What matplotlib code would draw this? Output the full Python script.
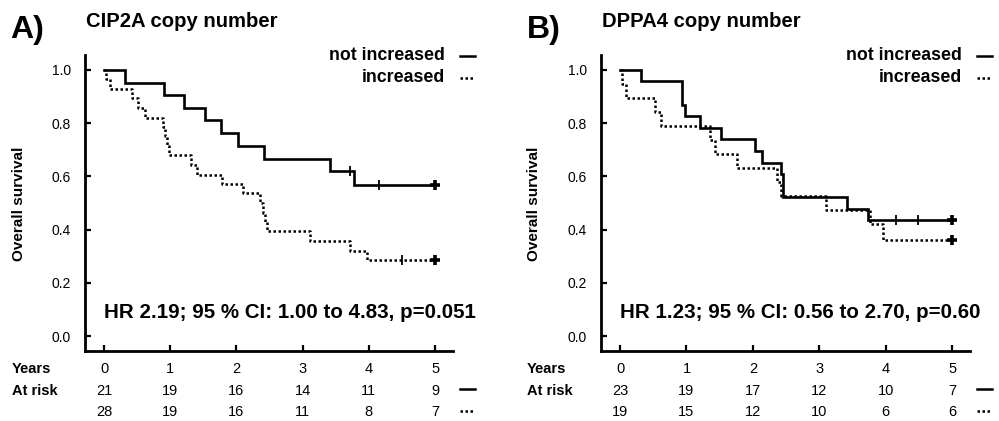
import matplotlib
matplotlib.use("Agg")
import matplotlib.pyplot as plt
from matplotlib.lines import Line2D

plt.rcParams['font.family'] = ['Liberation Sans', 'DejaVu Sans']

W, H = 999, 421

# ---------------- data ----------------
years = [0, 1, 2, 3, 4, 5]
yticks = [0.0, 0.2, 0.4, 0.6, 0.8, 1.0]
ytick_labels = ["0.0", "0.2", "0.4", "0.6", "0.8", "1.0"]

# Panel A: CIP2A
a_title = "CIP2A copy number"
a_hr = "HR 2.19; 95 % CI: 1.00 to 4.83, p=0.051"
a_not_t = [0, 0.32, 0.91, 1.21, 1.53, 1.77, 2.03, 2.42, 3.41, 3.78, 5.0]
a_not_s = [1.0, 0.952, 0.905, 0.857, 0.810, 0.762, 0.714, 0.667, 0.619, 0.567, 0.567]
a_not_cens_t = [3.72, 4.15]
a_not_cens_s = [0.619, 0.567]
a_not_end = 0.567
a_inc_t = [0, 0.03, 0.09, 0.43, 0.51, 0.62, 0.89, 0.92, 0.95, 0.98, 1.32, 1.40,
           1.78, 2.10, 2.36, 2.40, 2.43, 2.46, 3.11, 3.72, 3.97, 5.0]
a_inc_s = [1.0, 0.964, 0.929, 0.893, 0.857, 0.821, 0.786, 0.750, 0.714, 0.679,
           0.643, 0.607, 0.571, 0.536, 0.500, 0.464, 0.429, 0.393, 0.357, 0.321,
           0.286, 0.286]
a_inc_cens_t = [4.5]
a_inc_cens_s = [0.286]
a_inc_end = 0.286
a_risk_not = [21, 19, 16, 14, 11, 9]
a_risk_inc = [28, 19, 16, 11, 8, 7]

# Panel B: DPPA4
b_title = "DPPA4 copy number"
b_hr = "HR 1.23; 95 % CI: 0.56 to 2.70, p=0.60"
b_not_t = [0, 0.32, 0.94, 0.98, 1.21, 1.52, 2.03, 2.14, 2.42, 2.46, 3.42, 3.73, 5.0]
b_not_s = [1.0, 0.957, 0.870, 0.826, 0.783, 0.739, 0.696, 0.652, 0.609, 0.522,
           0.478, 0.435, 0.435]
b_not_cens_t = [4.15, 4.49]
b_not_cens_s = [0.435, 0.435]
b_not_end = 0.435
b_inc_t = [0, 0.03, 0.09, 0.52, 0.62, 1.35, 1.43, 1.76, 2.36, 2.42, 3.10, 3.76, 3.96, 5.0]
b_inc_s = [1.0, 0.947, 0.895, 0.842, 0.789, 0.737, 0.684, 0.632, 0.579, 0.526,
           0.474, 0.421, 0.361, 0.361]
b_inc_cens_t = []
b_inc_cens_s = []
b_inc_end = 0.361
b_risk_not = [23, 19, 17, 12, 10, 7]
b_risk_inc = [19, 15, 12, 10, 6, 6]

fig = plt.figure(figsize=(W / 100, H / 100), dpi=100)


def fx(p):
    return p / W


def fy(p):
    return 1 - p / H


LW = 1.9
DLW = 1.8
DOT = (0, (1.0, 1.0))


def panel(x_spine, x_right, letter, letter_x, title, hr, hr_x,
          not_t, not_s, nct, ncs, n_end, inc_t, inc_s, ict, ics, i_end,
          risk_not, risk_inc, label_x, ylab_x, leg_right, dash_x0):
    top, bottom = 55, 350.7
    ax = fig.add_axes([fx(x_spine), fy(bottom), fx(x_right - x_spine), (bottom - top) / H])
    ax.set_xlim(-0.287, 5.27)
    ax.set_ylim(-0.055, 1.056)
    for s in ['top', 'right']:
        ax.spines[s].set_visible(False)
    for s in ['left', 'bottom']:
        ax.spines[s].set_linewidth(2.0)
    ax.set_yticks(yticks)
    ax.set_yticklabels(ytick_labels, fontsize=10)
    ax.set_xticks(years)
    ax.set_xticklabels([])
    ax.tick_params(axis='both', direction='in', length=4, width=1.6, pad=9)
    ax.tick_params(axis='y', pad=10)

    ax.step(not_t, not_s, where='post', color='black', lw=LW, solid_joinstyle='miter')
    ax.step(inc_t, inc_s, where='post', color='black', lw=DLW, linestyle=DOT,
            dash_capstyle='butt')
    ax.plot(nct, ncs, linestyle='none', marker='|', color='black', ms=7, mew=1.3)
    ax.plot(ict, ics, linestyle='none', marker='|', color='black', ms=7, mew=1.3)
    ax.plot([5.0], [n_end], marker='+', color='black', ms=7, mew=2.6)
    ax.plot([5.0], [i_end], marker='+', color='black', ms=7, mew=2.6)

    # HR text
    fig.text(fx(hr_x), fy(318.3), hr, fontsize=14.8, fontweight='bold',
             ha='left', va='baseline')
    # titles
    fig.text(fx(letter_x), fy(38), letter, fontsize=23, fontweight='bold',
             ha='left', va='baseline')
    fig.text(fx(x_spine + 1), fy(26.7), title, fontsize=14.6, fontweight='bold',
             ha='left', va='baseline')
    # legend
    fig.text(fx(leg_right), fy(59.5), "not increased", fontsize=12.8,
             fontweight='bold', ha='right', va='baseline')
    fig.text(fx(leg_right), fy(81.5), "increased", fontsize=12.8,
             fontweight='bold', ha='right', va='baseline')
    fig.add_artist(Line2D([fx(dash_x0), fx(dash_x0 + 15)], [fy(55.5), fy(55.5)],
                          color='black', lw=1.8))
    fig.add_artist(Line2D([fx(dash_x0), fx(dash_x0 + 15)], [fy(77.5), fy(77.5)],
                          color='black', lw=DLW, linestyle=DOT, dash_capstyle='butt'))
    # y label
    fig.text(fx(ylab_x), fy(204), "Overall survival", fontsize=11,
             fontweight='bold', rotation=90, ha='center', va='center')
    # at-risk table
    trans = ax.get_xaxis_transform()
    frac = lambda p: (bottom - p) / (bottom - top)
    fig.text(fx(label_x), fy(373), "Years", fontsize=10.5, fontweight='bold',
             ha='left', va='baseline')
    fig.text(fx(label_x), fy(395), "At risk", fontsize=10.5, fontweight='bold',
             ha='left', va='baseline')
    for yv, rn, ri in zip(years, risk_not, risk_inc):
        ax.text(yv, frac(373), str(yv), transform=trans, fontsize=10.5,
                ha='center', va='baseline', clip_on=False)
        ax.text(yv, frac(395), str(rn), transform=trans, fontsize=10.5,
                ha='center', va='baseline', clip_on=False)
        ax.text(yv, frac(416.5), str(ri), transform=trans, fontsize=10.5,
                ha='center', va='baseline', clip_on=False)
    fig.add_artist(Line2D([fx(dash_x0), fx(dash_x0 + 15)], [fy(389), fy(389)],
                          color='black', lw=1.8))
    fig.add_artist(Line2D([fx(dash_x0), fx(dash_x0 + 15)], [fy(411), fy(411)],
                          color='black', lw=DLW, linestyle=DOT, dash_capstyle='butt'))
    return ax


panel(85, 453, "A)", 10, a_title, a_hr, 104,
      a_not_t, a_not_s, a_not_cens_t, a_not_cens_s, a_not_end,
      a_inc_t, a_inc_s, a_inc_cens_t, a_inc_cens_s, a_inc_end,
      a_risk_not, a_risk_inc, 12, 19, 445, 460)
panel(601, 970, "B)", 527, b_title, b_hr, 620,
      b_not_t, b_not_s, b_not_cens_t, b_not_cens_s, b_not_end,
      b_inc_t, b_inc_s, b_inc_cens_t, b_inc_cens_s, b_inc_end,
      b_risk_not, b_risk_inc, 527, 534, 961.5, 977)

fig.savefig("out.png", dpi=100)
